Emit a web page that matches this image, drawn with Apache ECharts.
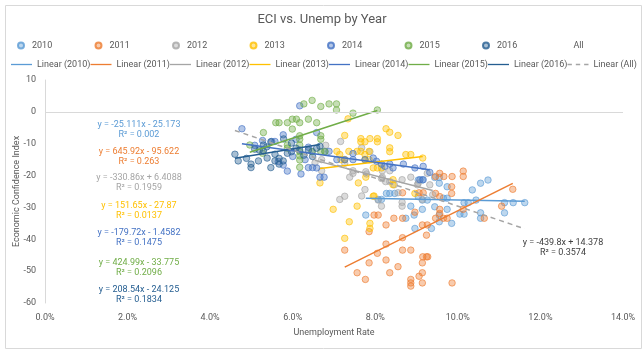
<!DOCTYPE html>
<html>
<head>
<meta charset="utf-8">
<script src="https://cdn.jsdelivr.net/npm/echarts@6/dist/echarts.min.js"></script>
<style>
  html, body { margin: 0; padding: 0; background: #fff; }
  #chart { width: 644px; height: 352px; }
</style>
</head>
<body>
<div id="chart"></div>
<script>
// values: [unemployment %, ECI]
const years = ['2010', '2011', '2012', '2013', '2014', '2015', '2016'];
const colors = ['#5B9BD5', '#ED7D31', '#A5A5A5', '#FFC000', '#4472C4', '#70AD47', '#255E91'];

const pts2010 = [[9.44,-20.6],[9.55,-20.6],[9.55,-22.4],[9.74,-23.5],[9.65,-27.1],[9.74,-27.1],[9.44,-29.8],[9.55,-32.4],
  [9.55,-34.5],[9.36,-36.6],[9.74,-30.6],[10.05,-32.1],[10.15,-32.1],[10.15,-28.5],[10.25,-28.5],[10.35,-24.5],
  [10.55,-22.4],[10.73,-21.4],[10.44,-27.7],[10.55,-31.7],[10.55,-33.4],[11.13,-31.7],[11.13,-28.5],[11.34,-28.5],
  [11.62,-28.5],[8.94,-32.4],[8.96,-36.6],[8.74,-33.4],[8.86,-29.6],[9.04,-21.4],[9.14,-21.4],[9.04,-26.6],
  [9.14,-27.7],[9.14,-30.6],[9.26,-27.7],[8.27,-25.6],[8.35,-25.6],[8.47,-25.6],[8.07,-27.5],[8.15,-27.5],
  [7.77,-32.4],[9.85,-35.0]];
const pts2011 = [[7.26,-43.4],[7.56,-50.5],[7.76,-52.6],[7.85,-47.4],[8.05,-44.4],[8.26,-46.5],[8.26,-41.5],[8.35,-50.5],
  [8.55,-48.6],[8.66,-43.4],[8.86,-43.4],[8.86,-52.6],[8.86,-53.7],[8.86,-54.7],[9.06,-51.6],[9.14,-50.5],
  [9.14,-47.4],[9.15,-45.5],[9.27,-45.5],[8.66,-39.5],[8.26,-35.5],[7.97,-32.4],[8.07,-32.4],[8.45,-33.4],
  [8.66,-33.4],[8.96,-31.5],[9.14,-35.5],[9.24,-38.7],[7.85,-37.6],[9.56,-19.3],[9.46,-20.3],[9.66,-20.3],
  [9.86,-20.3],[10.13,-18.6],[10.13,-20.3],[9.46,-25.6],[9.56,-26.6],[9.85,-23.5],[9.85,-25.6],[9.06,-25.4],
  [9.16,-25.4],[8.66,-25.4],[9.46,-33.4],[9.65,-33.4],[9.74,-33.4],[9.26,-35.5],[10.13,-30.6],[9.56,-30.6],
  [9.56,-31.9],[10.64,-33.4],[11.06,-29.6],[11.33,-24.3],[9.24,-45.5],[9.86,-53.7],[9.14,-53.7]];
const pts2012 = [[6.54,-16.0],[7.16,-9.3],[7.67,-11.3],[7.87,-12.5],[6.70,-15.0],[6.70,-18.5],[7.38,-20.5],[7.46,-18.5],
  [7.79,-19.5],[8.17,-20.5],[8.17,-18.5],[8.35,-18.5],[8.46,-22.9],[8.65,-21.3],[8.86,-20.5],[9.02,-22.9],
  [9.32,-22.9],[7.75,-24.4],[7.26,-26.5],[7.26,-16.1],[7.46,-19.3],[7.77,-18.8],[8.15,-20.9],[8.25,-21.9],
  [8.35,-21.9],[9.26,-19.3],[8.55,-25.4],[7.14,-27.5],[8.15,-29.6],[8.65,-28.4],[8.65,-29.6],[9.14,-27.5],
  [9.04,-22.4],[7.67,-26.4],[8.07,-27.7],[9.39,-26.0],[6.80,-10.5]];
const pts2013 = [[7.34,-2.2],[8.26,-5.3],[8.35,-6.4],[8.55,-7.4],[7.26,-7.4],[7.65,-8.4],[7.65,-9.4],[7.75,-9.4],
  [7.87,-8.4],[8.05,-8.4],[8.05,-9.4],[8.35,-11.3],[7.07,-12.4],[7.36,-12.4],[7.56,-12.4],[7.65,-12.4],
  [7.75,-13.4],[7.85,-12.4],[7.14,-13.4],[7.17,-15.0],[7.26,-15.0],[7.75,-15.0],[7.85,-15.0],[7.95,-17.6],
  [8.05,-17.6],[8.15,-17.6],[8.74,-13.4],[8.86,-13.4],[9.15,-14.5],[6.66,-22.3],[7.59,-22.3],[7.77,-20.5],
  [8.43,-21.3],[8.43,-22.9],[7.95,-26.5],[6.98,-30.6],[7.56,-29.6],[7.37,-34.5],[7.26,-39.7],[7.87,-36.6],
  [7.87,-35.0],[7.97,-26.4],[8.96,-25.6],[8.35,-12.5]];
const pts2014 = [[4.77,-5.3],[6.17,1.9],[5.77,-7.2],[5.49,-9.3],[5.57,-9.3],[6.08,-8.6],[6.58,-6.5],[5.87,-18.6],
  [6.38,-17.5],[6.48,-17.5],[6.66,-20.5],[6.76,-20.5],[5.65,-15.6],[5.77,-16.7],[6.38,-11.1],[6.47,-12.4],
  [6.30,-15.0],[6.58,-17.6],[6.78,-12.4],[6.88,-12.4],[7.07,-15.0],[7.26,-15.0],[7.46,-15.0],[7.46,-13.1],
  [7.75,-15.0],[7.95,-14.5],[8.03,-15.5],[8.15,-16.4],[8.23,-17.1],[8.35,-16.4],[8.43,-17.6],[8.68,-16.4],
  [8.96,-17.6],[9.08,-21.3],[9.16,-21.3],[9.16,-17.1],[9.32,-19.0],[5.08,-10.5],[5.27,-9.0],[6.00,-14.0],
  [6.20,-19.5]];
const pts2015 = [[6.27,2.5],[6.47,3.6],[6.68,1.7],[6.88,2.5],[7.06,2.5],[7.06,0.6],[7.46,-0.4],[8.05,0.6],
  [5.59,-3.4],[5.67,-3.4],[5.87,-3.4],[5.99,-2.3],[6.09,-2.3],[6.17,-3.4],[6.38,-2.3],[6.58,-3.4],
  [5.99,-5.4],[5.29,-6.5],[6.17,-7.5],[6.17,-8.6],[6.68,-7.5],[6.68,-8.6],[4.96,-10.4],[5.87,-10.4],
  [6.17,-10.4],[5.87,-11.4],[6.17,-12.5],[6.47,-12.5],[6.68,-12.5],[6.78,-12.5],[5.27,-13.0],[6.17,-13.8],
  [6.17,-15.1],[6.17,-17.4]];
const pts2016 = [[4.60,-13.3],[4.68,-15.4],[4.88,-14.6],[4.99,-16.4],[4.99,-17.5],[5.17,-15.4],[5.08,-11.7],[5.19,-12.0],
  [5.29,-10.4],[5.29,-12.3],[5.47,-17.5],[5.57,-13.3],[5.57,-15.4],[5.67,-14.6],[5.67,-16.4],[5.77,-15.4],
  [5.97,-12.5],[6.08,-11.4],[6.17,-12.0],[6.38,-12.0],[6.58,-11.4],[5.97,-9.8],[5.37,-11.0],[5.47,-9.4],
  [6.66,-10.8],[6.48,-14.0],[5.87,-13.0],[5.38,-14.5],[6.27,-13.6],[5.78,-8.5]];
const yearPoints = [pts2010, pts2011, pts2012, pts2013, pts2014, pts2015, pts2016];

// trendline equations shown on the chart (x as a fraction)
const slopes = [-25.111, 645.92, -330.86, 151.65, -179.72, 424.99, 208.54];
const intercepts = [-25.173, -95.622, 6.4088, -27.87, -1.4582, -33.775, -24.125];
const rSquared = [0.002, 0.263, 0.1959, 0.0137, 0.1475, 0.2096, 0.1834];
const allSlope = -439.8, allIntercept = 14.378, allR2 = 0.3574;

const txt = '#595959';
const font = 'Roboto, sans-serif';
const legendFont = '9px ' + font;

function toChart(p) { return [p[0] / 100, p[1]]; }
function trend(pts, m, b) {
  const xs = pts.map(p => p[0] / 100);
  const lo = Math.min(...xs), hi = Math.max(...xs);
  return [[lo, m * lo + b], [hi, m * hi + b]];
}
function eqText(m, b) {
  return 'y = ' + m + 'x ' + (b < 0 ? '- ' : '+ ') + Math.abs(b);
}
function fade(hex, a) {
  const n = parseInt(hex.slice(1), 16);
  return 'rgba(' + (n >> 16) + ',' + ((n >> 8) & 255) + ',' + (n & 255) + ',' + a + ')';
}
// legend entries sit on a fixed pitch, as in the Excel legend
const measure = document.createElement('canvas').getContext('2d');
measure.font = legendFont;
const pitch = 79.5;
const gap1 = pitch - 12 - 5 - measure.measureText('2010').width;
const gap2 = pitch - 21 - 5 - measure.measureText('Linear (2010)').width;

const allPts = [].concat(...yearPoints);
const series = [];
years.forEach((y, i) => {
  series.push({
    name: y, type: 'scatter', symbolSize: 6.5, z: 2,
    data: yearPoints[i].map(toChart),
    itemStyle: { color: fade(colors[i], 0.5), borderColor: colors[i], borderWidth: 0.8 }
  });
});
series.push({
  name: 'All', type: 'scatter', symbolSize: 6, silent: true,
  data: allPts.map(toChart),
  itemStyle: { color: 'rgba(0,0,0,0)', borderColor: 'rgba(0,0,0,0)' },
  markLine: {
    silent: true, symbol: ['none', 'none'], label: { show: false },
    lineStyle: { color: '#d9d9d9', type: 'solid', width: 1 },
    data: [{ yAxis: 0 }]
  }
});
years.forEach((y, i) => {
  series.push({
    name: 'Linear (' + y + ')', type: 'line', symbol: 'none', z: 4, silent: true,
    data: trend(yearPoints[i], slopes[i], intercepts[i]),
    lineStyle: { color: colors[i], width: 1.5 }, itemStyle: { color: colors[i] }
  });
});
series.push({
  name: 'Linear (All)', type: 'line', symbol: 'none', z: 4, silent: true,
  data: trend(allPts, allSlope, allIntercept),
  lineStyle: { color: '#A5A5A5', width: 1.5, type: [5, 4] }, itemStyle: { color: '#A5A5A5' }
});

const solidIcon = 'path://M0,0H24V1.5H0Z';
const dashIcon = 'path://M0,0H5V1.5H0Z M9.5,0H14.5V1.5H9.5Z M19,0H24V1.5H19Z';
const legendRow2 = years.map(y => ({ name: 'Linear (' + y + ')', icon: solidIcon }))
  .concat([{ name: 'Linear (All)', icon: dashIcon }]);

// equation labels
const labelTops = [125, 152, 178, 206, 233, 263, 290];
const graphics = [{
  type: 'rect', left: 3, top: 3, silent: true,
  shape: { width: 636, height: 343 },
  style: { fill: 'none', stroke: '#d9d9d9', lineWidth: 1 }
}];
years.forEach((y, i) => {
  graphics.push({ type: 'text', x: 139, y: labelTops[i], style: {
    text: eqText(slopes[i], intercepts[i]), fill: colors[i], font: '9px ' + font, align: 'center', verticalAlign: 'middle' } });
  graphics.push({ type: 'text', x: 139, y: labelTops[i] + 10, style: {
    text: 'R² = ' + rSquared[i], fill: colors[i], font: '9px ' + font, align: 'center', verticalAlign: 'middle' } });
});
graphics.push({ type: 'text', x: 563, y: 243, style: {
  text: eqText(allSlope, allIntercept), fill: '#404040', font: '9px ' + font, align: 'center', verticalAlign: 'middle' } });
graphics.push({ type: 'text', x: 563, y: 253, style: {
  text: 'R² = ' + allR2, fill: '#404040', font: '9px ' + font, align: 'center', verticalAlign: 'middle' } });

const chart = echarts.init(document.getElementById('chart'));
chart.setOption({
  animation: false,
  textStyle: { fontFamily: font },
  title: {
    text: 'ECI vs. Unemp by Year', left: 'center', top: 8,
    textStyle: { fontSize: 13, fontWeight: 'normal', color: txt, fontFamily: font }
  },
  legend: [{
    data: years.concat(['All']), left: 12, top: 36, width: 640,
    itemWidth: 12, itemHeight: 6, itemGap: gap1, selectedMode: false,
    textStyle: { fontSize: 9, color: txt, fontFamily: font }
  }, {
    data: legendRow2, left: 6, top: 55, width: 640,
    itemWidth: 21, itemHeight: 1.5, itemGap: gap2, selectedMode: false,
    textStyle: { fontSize: 9, color: txt, fontFamily: font }
  }],
  grid: { left: 45, right: 21, top: 80, bottom: 49, containLabel: false, outerBoundsMode: 'none' },
  xAxis: {
    type: 'value', min: 0, max: 0.14, interval: 0.02,
    name: 'Unemployment Rate', nameLocation: 'middle', nameGap: 25,
    nameTextStyle: { fontSize: 9, color: txt },
    axisLine: { show: false }, axisTick: { show: false }, splitLine: { show: false },
    axisLabel: { fontSize: 9, color: txt, margin: 10, formatter: v => (v * 100).toFixed(1) + '%' }
  },
  yAxis: {
    type: 'value', min: -60, max: 10, interval: 10,
    name: 'Economic Confidence Index', nameLocation: 'middle', nameGap: 24, nameMoveOverlap: false,
    nameTextStyle: { fontSize: 9, color: txt },
    axisLine: { show: true, lineStyle: { color: '#d9d9d9' } },
    axisTick: { show: false }, splitLine: { show: false },
    axisLabel: { fontSize: 9, color: txt, margin: 9 }
  },
  graphic: graphics,
  series: series
});
</script>
</body>
</html>
